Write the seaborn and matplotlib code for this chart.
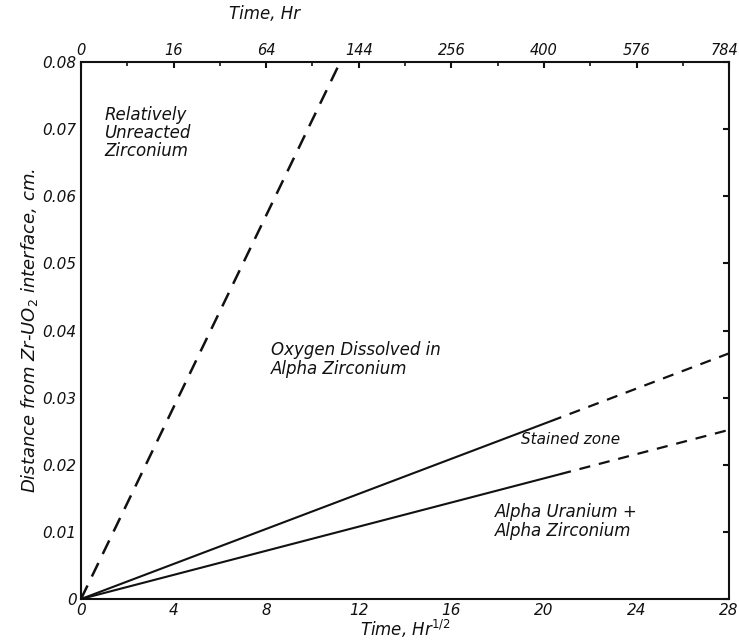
import matplotlib
matplotlib.use("Agg")
import matplotlib.pyplot as plt
import matplotlib.transforms as mtransforms
import seaborn as sns
import numpy as np

sns.set_theme(style="white")
plt.rcParams['font.family'] = ['DejaVu Sans']
plt.rcParams['text.color'] = '#111111'
plt.rcParams['axes.labelcolor'] = '#111111'
plt.rcParams['xtick.color'] = '#111111'
plt.rcParams['ytick.color'] = '#111111'

# Bottom axis (sqrt hr) ticks and top axis (hr) tick labels
x_ticks = [0, 4, 8, 12, 16, 20, 24, 28]
x_tick_labels = ["0", "4", "8", "12", "16", "20", "24", "28"]
top_tick_labels = ["0", "16", "64", "144", "256", "400", "576", "784"]
y_ticks = [0, 0.01, 0.02, 0.03, 0.04, 0.05, 0.06, 0.07, 0.08]
y_tick_labels = ["0", "0.01", "0.02", "0.03", "0.04", "0.05", "0.06", "0.07", "0.08"]

# Boundary lines (x in Hr^1/2, y in cm)
steep_x = [0, 11.2]
steep_y = [0, 0.08]
upper_solid_x = [0, 20.3]
upper_solid_y = [0, 0.0265]
upper_dash_x = [20.3, 28]
upper_dash_y = [0.0265, 0.0366]
lower_solid_x = [0, 20.7]
lower_solid_y = [0, 0.0186]
lower_dash_x = [20.7, 28]
lower_dash_y = [0.0186, 0.0252]

fig = plt.figure(figsize=(7.39, 6.43), dpi=100)
ax = fig.add_axes([0.1096, 0.0684, 0.877, 0.8352])

ink = "#111111"
sns.lineplot(x=steep_x, y=steep_y, ax=ax, color=ink, lw=1.8,
             linestyle=(0, (6, 4)))
sns.lineplot(x=upper_solid_x, y=upper_solid_y, ax=ax, color=ink, lw=1.5)
sns.lineplot(x=upper_dash_x, y=upper_dash_y, ax=ax, color=ink, lw=1.6,
             linestyle=(0, (5, 4)))
sns.lineplot(x=lower_solid_x, y=lower_solid_y, ax=ax, color=ink, lw=1.5)
sns.lineplot(x=lower_dash_x, y=lower_dash_y, ax=ax, color=ink, lw=1.6,
             linestyle=(0, (5, 4)))

ax.set_xlim(0, 28)
ax.set_ylim(0, 0.08)
ax.set_xticks(x_ticks)
ax.set_xticklabels(x_tick_labels, fontsize=11, style="italic")
ax.set_yticks(y_ticks)
ax.set_yticklabels(y_tick_labels, fontsize=11, style="italic")
ax.set_xticks(np.arange(0, 29, 2), minor=True)
ax.tick_params(axis="both", which="major", direction="in", length=4, width=1.5,
               color=ink, pad=3)
ax.tick_params(axis="x", which="minor", direction="in", length=3, width=1.2,
               color=ink, top=True)
ax.tick_params(axis="y", right=True)
ax.tick_params(axis="x", top=False)
for s in ax.spines.values():
    s.set_color(ink)
    s.set_linewidth(1.5)

ax.set_xlabel("Time, Hr$^{1/2}$", fontsize=12, style="italic", labelpad=0)
ax.set_ylabel("Distance from Zr-UO$_2$ interface, cm.", fontsize=13,
              style="italic", labelpad=2)

top = ax.secondary_xaxis("top")
top.set_xticks(x_ticks)
top.set_xticklabels(top_tick_labels, fontsize=10.5, style="italic")
top.tick_params(direction="in", length=4, width=1.5, color=ink, pad=3)
last = top.get_xticklabels()[-1]
last.set_horizontalalignment("right")
last.set_transform(last.get_transform() +
                   mtransforms.ScaledTranslation(7 / 72, 0, fig.dpi_scale_trans))
fig.text(265 / 739, 1 - 14 / 643, "Time, Hr", fontsize=12, style="italic",
         ha="center", va="center", color=ink)

ax.text(1.0, 0.0735, "Relatively\nUnreacted\nZirconium", fontsize=12,
        style="italic", va="top", ha="left", color=ink, linespacing=1.0)
ax.text(8.2, 0.0385, "Oxygen Dissolved in\nAlpha Zirconium", fontsize=12,
        style="italic", va="top", ha="left", color=ink, linespacing=1.1)
ax.text(19.0, 0.0237, "Stained zone", fontsize=11, style="italic",
        va="center", ha="left", color=ink)
ax.text(17.9, 0.0143, "Alpha Uranium +\nAlpha Zirconium", fontsize=12,
        style="italic", va="top", ha="left", color=ink, linespacing=1.1)

fig.savefig("out.png", dpi=100)
